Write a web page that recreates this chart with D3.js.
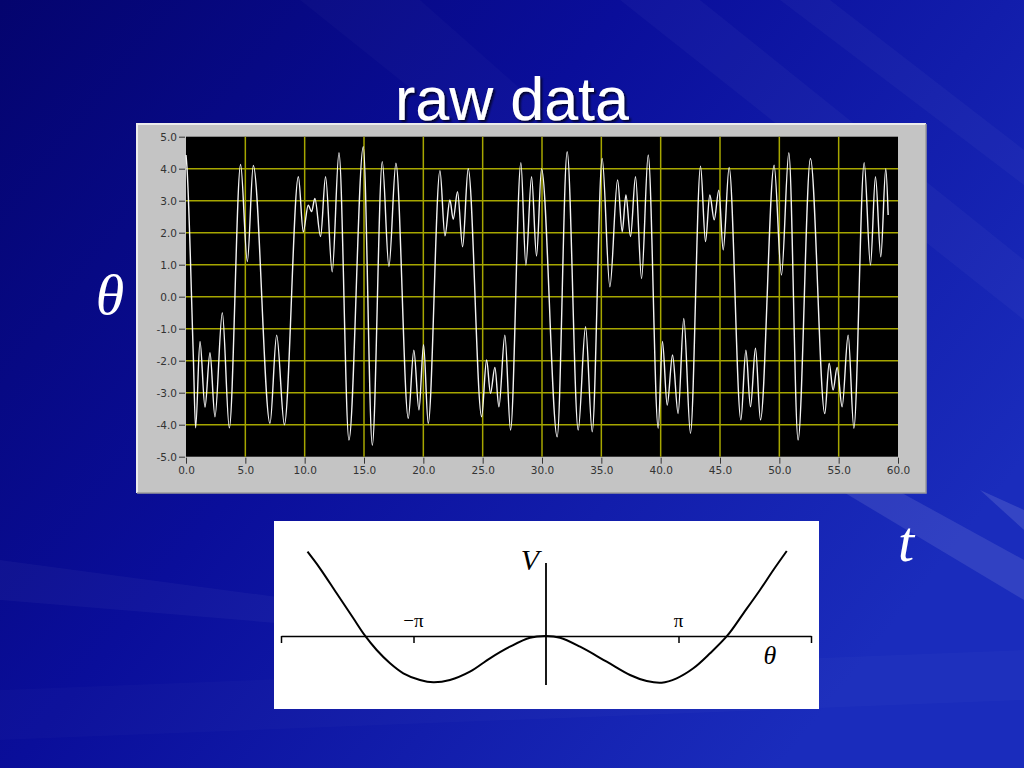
<!DOCTYPE html>
<html><head><meta charset="utf-8">
<script src="https://cdn.jsdelivr.net/npm/d3@7"></script>
<style>html,body{margin:0;padding:0;overflow:hidden;background:#08088a}</style>
</head><body>
<svg id="c" width="1024" height="768"></svg>
<script>
// ---- raw data signal (time in s, theta) ----
const signalT = [0,0.08,0.62,0.81,1.18,1.6,2.02,2.44,3.06,3.65,4.6,5.17,5.67,7.08,7.64,8.29,9.47,9.88,10.3,10.58,10.86,11.34,11.76,12.32,12.89,13.73,14.94,15.7,16.54,17.1,17.69,18.73,19.2,19.63,20.02,20.41,21.4,21.82,22.24,22.52,22.88,23.31,23.78,24.91,25.33,25.66,26.03,26.37,26.87,27.35,28.22,28.64,29.12,29.54,29.96,31.28,32.12,33.05,33.67,34.23,35.07,35.72,36.37,36.76,37.07,37.46,37.88,38.39,38.95,39.79,40.15,40.55,41.0,41.47,41.95,42.51,43.36,43.78,44.14,44.51,44.9,45.27,45.77,46.76,47.18,47.57,47.99,48.41,49.56,50.18,50.8,51.58,52.62,53.83,54.2,54.53,54.87,55.29,55.8,56.28,57.15,57.68,58.1,58.55,58.97,59.17];
const signalV = [4.43,4.05,-1.9,-4.1,-1.4,-3.45,-1.75,-3.75,-0.5,-4.1,4.13,1.1,4.1,-3.96,-1.2,-4.0,3.75,2.03,2.86,2.66,3.07,1.88,3.75,0.78,4.5,-4.48,4.69,-4.64,4.22,0.94,4.17,-3.8,-1.67,-3.54,-1.5,-3.96,3.94,1.9,3.02,2.42,3.28,1.56,4.0,-3.75,-1.98,-3.02,-2.21,-3.44,-1.2,-4.17,4.19,0.99,3.75,1.27,4.0,-4.38,4.53,-4.17,-0.94,-4.22,4.32,0.31,3.65,2.03,3.18,1.88,3.75,0.57,4.43,-4.11,-1.4,-3.39,-1.82,-3.65,-0.68,-4.27,4.08,1.72,3.18,2.4,3.33,1.46,4.04,-3.85,-1.67,-3.44,-1.61,-3.85,4.11,0.68,4.5,-4.48,4.32,-3.65,-2.08,-2.92,-2.21,-3.44,-1.2,-4.11,4.19,0.99,3.75,1.25,4.0,2.55];
const yTicks = [5,4,3,2,1,0,-1,-2,-3,-4,-5];
const xTicks = [0,5,10,15,20,25,30,35,40,45,50,55,60];

// ---- potential V(theta), theta in units of pi ----
const potTheta = [-1.80,-1.706,-1.58,-1.454,-1.366,-1.278,-1.177,-1.077,-0.951,-0.85,-0.725,-0.574,-0.423,-0.272,-0.121,0,0.106,0.257,0.458,0.634,0.76,0.873,0.986,1.112,1.238,1.368,1.49,1.615,1.716,1.817];
const potV = [84.3,67.7,42.7,17.7,0.3,-14,-27.3,-37.3,-44,-46.3,-44,-35.7,-22.3,-10.7,-1.7,0,-1.7,-10.7,-25.7,-39,-45,-46.7,-42.3,-32.3,-17.3,0.3,22.7,46,66,85];
const potTicks = [-2,-1,1,2];
const potLabels = [{v:-1, t:"\u2212\u03c0"},{v:1, t:"\u03c0"}];

const svg = d3.select("#c");
const defs = svg.append("defs");

// background
const bg = defs.append("linearGradient").attr("id","bg").attr("x1","0").attr("y1","0").attr("x2","1").attr("y2","0.6");
bg.append("stop").attr("offset","0").attr("stop-color","#04046e");
bg.append("stop").attr("offset","0.45").attr("stop-color","#0a0e9a");
bg.append("stop").attr("offset","1").attr("stop-color","#1a2cbc");
svg.append("rect").attr("width",1024).attr("height",768).attr("fill","url(#bg)");
const streaks = [
  [[620,0],[700,0],[1024,260],[1024,320]],
  [[780,0],[830,0],[1024,150],[1024,185]],
  [[300,0],[420,0],[760,300],[700,320]],
  [[860,470],[1024,560],[1024,600],[840,490]],
  [[980,490],[1024,510],[1024,530]],
  [[0,560],[300,600],[300,625],[0,600]],
  [[0,690],[1024,650],[1024,700],[0,740]]
];
svg.append("g").selectAll("polygon").data(streaks).join("polygon")
  .attr("points",d=>d.map(p=>p.join(",")).join(" "))
  .attr("fill","#ffffff").attr("opacity",(d,i)=>[0.03,0.03,0.025,0.1,0.12,0.035,0.02][i]);

// title
const shadow = defs.append("filter").attr("id","sh").attr("x","-10%").attr("y","-10%").attr("width","130%").attr("height","130%");
shadow.append("feDropShadow").attr("dx",2).attr("dy",2).attr("stdDeviation",1).attr("flood-color","#000").attr("flood-opacity",0.7);
svg.append("text").attr("x",512).attr("y",120).attr("text-anchor","middle")
  .attr("font-family","Liberation Sans, Arial, sans-serif").attr("font-size",61)
  .attr("fill","#fff").attr("filter","url(#sh)").text("raw data");

// ---- LabVIEW style panel ----
svg.append("rect").attr("x",137).attr("y",124).attr("width",789).attr("height",369).attr("fill","#c4c4c4");
svg.append("path").attr("d","M137,493 L137,124 L926,124").attr("fill","none").attr("stroke","#ececec").attr("stroke-width",2);
svg.append("path").attr("d","M137,493 L926,493 L926,124").attr("fill","none").attr("stroke","#9a9a9a").attr("stroke-width",1.5);

const x = d3.scaleLinear().domain([0,60]).range([186,898]);
const y = d3.scaleLinear().domain([-5,5]).range([456.7,136.7]);

svg.append("rect").attr("x",x(0)).attr("y",y(5)).attr("width",x(60)-x(0)).attr("height",y(-5)-y(5)).attr("fill","#000");

// grid
const grid = svg.append("g").attr("stroke","#a6a600").attr("stroke-width",1.5);
grid.append("g").selectAll("line").data(yTicks.filter(d=>d>-5&&d<5)).join("line")
  .attr("x1",x(0)).attr("x2",x(60)).attr("y1",d=>y(d)).attr("y2",d=>y(d));
grid.append("g").selectAll("line").data(xTicks.filter(d=>d>0&&d<60)).join("line")
  .attr("y1",y(5)).attr("y2",y(-5)).attr("x1",d=>x(d)).attr("x2",d=>x(d));

// axes
const fmt = d => d.toFixed(1);
const yAxis = svg.append("g").attr("transform",`translate(${x(0)-1},0)`)
  .call(d3.axisLeft(y).tickValues(yTicks).tickFormat(fmt).tickSize(6).tickPadding(2));
const xAxis = svg.append("g").attr("transform",`translate(0,${y(-5)+1})`)
  .call(d3.axisBottom(x).tickValues(xTicks).tickFormat(fmt).tickSize(6).tickPadding(3));
[yAxis,xAxis].forEach(a=>{
  a.select(".domain").remove();
  a.selectAll("line").attr("stroke","#333");
  a.selectAll("text").attr("fill","#333").attr("font-family","DejaVu Sans, sans-serif").attr("font-size",10.5);
});
yAxis.selectAll("text").attr("dy","0.35em");

// signal trace
const data = signalT.map((t,i)=>({t, v: signalV[i]}));
svg.append("path").datum(data)
  .attr("fill","none").attr("stroke","#f4f4f4").attr("stroke-width",1.4)
  .attr("d", d3.line().x(d=>x(d.t)).y(d=>y(d.v)).curve(d3.curveMonotoneX));

// big labels
svg.append("text").attr("x",110).attr("y",314).attr("text-anchor","middle")
  .attr("font-family","Liberation Serif, Times New Roman, serif").attr("font-style","italic")
  .attr("font-size",58).attr("fill","#fff").text("\u03b8");
svg.append("text").attr("x",906).attr("y",561).attr("text-anchor","middle")
  .attr("font-family","Liberation Serif, Times New Roman, serif").attr("font-style","italic")
  .attr("font-size",58).attr("fill","#fff").text("t");

// ---- potential plot ----
svg.append("rect").attr("x",274).attr("y",521).attr("width",545).attr("height",188).attr("fill","#fff");
const xp = d3.scaleLinear().domain([-2,2]).range([281,811]);
const yp = d3.scaleLinear().domain([0,100]).range([636,536]);

const pAxis = svg.append("g").attr("transform",`translate(0,${yp(0)})`)
  .call(d3.axisBottom(xp).tickValues(potTicks).tickFormat("").tickSize(7).tickSizeOuter(0));
pAxis.selectAll("line,path").attr("stroke","#000").attr("stroke-width",1.5);
svg.append("line").attr("x1",xp(0)).attr("x2",xp(0)).attr("y1",yp(73)).attr("y2",yp(-49))
  .attr("stroke","#000").attr("stroke-width",1.8);

const pot = potTheta.map((t,i)=>({t, v: potV[i]}));
svg.append("path").datum(pot).attr("fill","none").attr("stroke","#000").attr("stroke-width",2)
  .attr("d", d3.line().x(d=>xp(d.t)).y(d=>yp(d.v)).curve(d3.curveCatmullRom));

svg.append("g").selectAll("text").data(potLabels).join("text")
  .attr("x",d=>xp(d.v)).attr("y",627).attr("text-anchor","middle")
  .attr("font-family","Liberation Serif, Times New Roman, serif").attr("font-size",19).attr("fill","#000")
  .text(d=>d.t);
svg.append("text").attr("x",530).attr("y",570).attr("text-anchor","middle")
  .attr("font-family","Liberation Serif, Times New Roman, serif").attr("font-style","italic")
  .attr("font-size",30).attr("fill","#000").text("V");
svg.append("text").attr("x",770).attr("y",664).attr("text-anchor","middle")
  .attr("font-family","Liberation Serif, Times New Roman, serif").attr("font-style","italic")
  .attr("font-size",26).attr("fill","#000").text("\u03b8");
</script>
</body></html>
